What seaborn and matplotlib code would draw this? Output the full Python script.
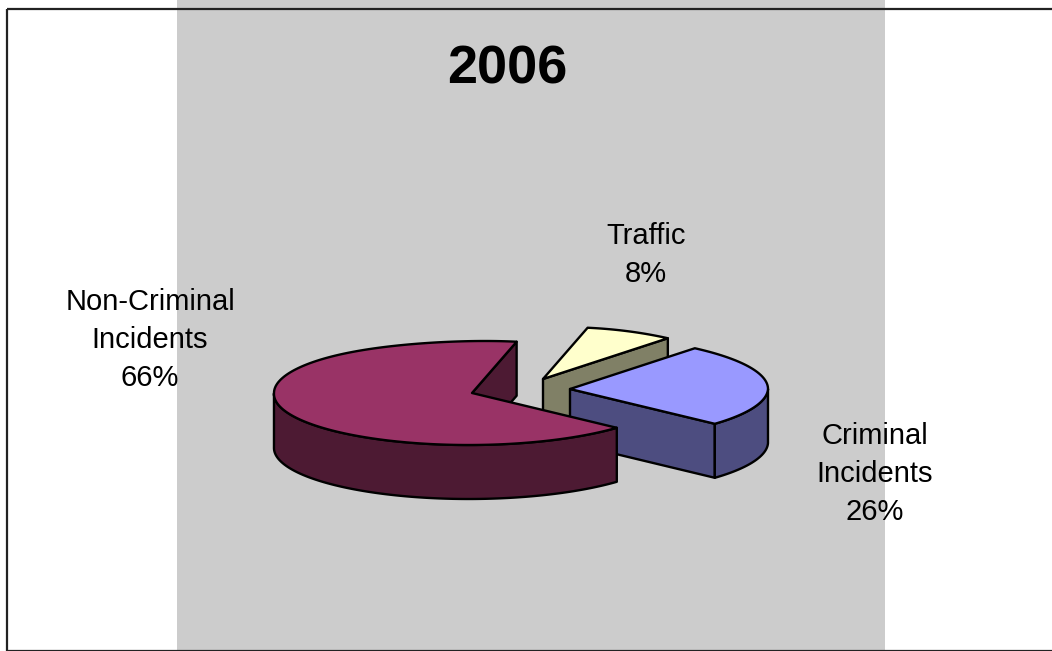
import numpy as np
import matplotlib
matplotlib.use("Agg")
import matplotlib.pyplot as plt
from matplotlib.patches import Polygon, Rectangle
import seaborn as sns

# slices in clockwise order, beginning at the back of the pie
categories = ["Traffic", "Criminal\nIncidents", "Non-Criminal\nIncidents"]
percents = [8, 26, 66]
tick_colors = ["#ffffcc", "#9999ff", "#993366"]

title = "2006"

sns.set_theme(style="white")
plt.rcParams["font.family"] = ["Liberation Sans", "DejaVu Sans"]
palette = sns.color_palette(tick_colors)

# pie geometry in pixels
start_angle = 80.4
rx, ry, depth = 198, 52, 54
apexes = [(543, 379), (570, 389), (472, 393)]
label_pos = [(646, 255), (875, 474), (150, 340)]
draw_order = [0, 1, 2]


def rim(apex, t):
    t = np.radians(t)
    s = np.sin(t)
    # the old 3d view leans the back of the pie to the right a little
    lean = np.where(s > 0, 13 * s ** 8, 3.5 * s)
    return np.column_stack([apex[0] + rx * np.cos(t) + lean, apex[1] - ry * s])


fig = plt.figure(figsize=(10.52, 6.51), dpi=100)
ax = fig.add_axes([0, 0, 1, 1])
ax.set_xlim(0, 1052)
ax.set_ylim(651, 0)
ax.axis("off")

ax.add_patch(Rectangle((177, 0), 708, 651, fc="#cccccc", ec="none", zorder=0))
ax.add_patch(Rectangle((6.5, 9), 1060, 641.5, fill=False, ec="#222222", lw=1.6, zorder=1))

# angle limits of each slice from the percentages
ends = start_angle - np.cumsum(percents) * 3.6
starts = np.r_[start_angle, ends[:-1]]

z = 2
for i in draw_order:
    apex = apexes[i]
    side = tuple(c * 0.5 for c in palette[i])
    a = np.array(apex, float)
    down = np.array([0, depth])

    # cut faces that look towards the viewer
    for t, seen in [(starts[i], np.cos(np.radians(starts[i])) < 0),
                    (ends[i], np.cos(np.radians(ends[i])) > 0)]:
        if seen:
            p = rim(apex, t)[0]
            ax.add_patch(Polygon([a, p, p + down, a + down], fc=side, ec="black", lw=1.7,
                                 joinstyle="round", zorder=z))
            z += 1

    # outer wall, only the part on the front of the ellipse
    ts = np.linspace(starts[i], ends[i], 300)
    front = ts[np.sin(np.radians(ts)) <= 0]
    if len(front):
        top = rim(apex, front)
        ax.add_patch(Polygon(np.vstack([top, (top + down)[::-1]]), fc=side, ec="black", lw=1.7,
                             joinstyle="round", zorder=z))
        z += 1

    # top face
    ax.add_patch(Polygon(np.vstack([a, rim(apex, ts)]), fc=palette[i], ec="black", lw=1.7,
                         joinstyle="round", zorder=z))
    z += 1

for cat, pct, pos in zip(categories, percents, label_pos):
    ax.text(pos[0], pos[1], f"{cat}\n{pct}%", ha="center", va="center", fontsize=21,
            color="black", linespacing=1.46, zorder=50)

ax.text(507, 70, title, ha="center", va="center", fontsize=39, fontweight="bold", color="black", zorder=50)

fig.savefig("out.png", dpi=100)
